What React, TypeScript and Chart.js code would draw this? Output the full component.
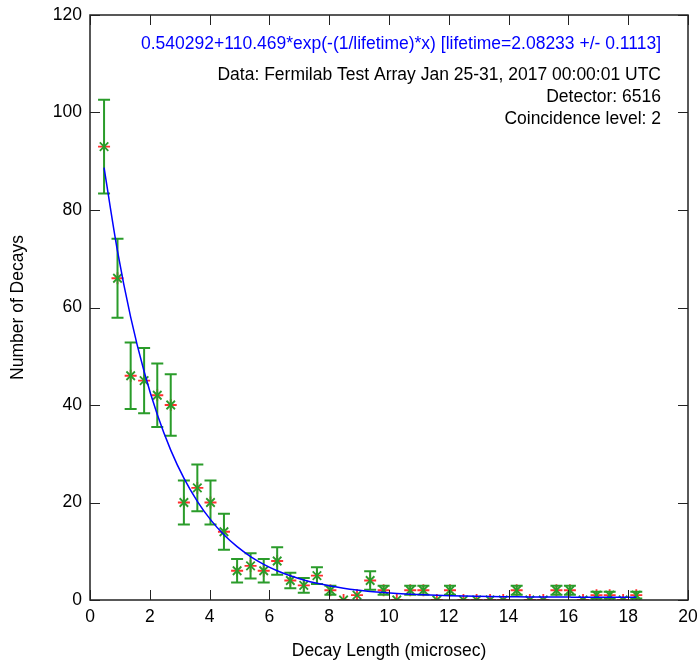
import React, { useEffect, useRef } from "react";
import { Chart, registerables } from "chart.js";

Chart.register(...registerables);

// Bin centres (microsec)
const decayX = [
  0.47, 0.92, 1.36, 1.81, 2.25, 2.7, 3.14, 3.59, 4.03, 4.48, 4.92, 5.37, 5.81, 6.26,
  6.7, 7.15, 7.59, 8.04, 8.48, 8.93, 9.37, 9.82, 10.26, 10.71, 11.15, 11.6, 12.04,
  12.49, 12.93, 13.38, 13.82, 14.27, 14.71, 15.16, 15.6, 16.05, 16.49, 16.94, 17.38,
  17.83, 18.27,
];
// Number of decays per bin
const decayCounts = [
  93, 66, 46, 45, 42, 40, 20, 23, 20, 14, 6, 7, 6, 8, 4, 3, 5, 2, 0, 1, 4, 2, 0, 2, 2,
  0, 2, 0, 0, 0, 0, 2, 0, 0, 2, 2, 0, 1, 1, 0, 1,
];
// Error bar half-heights
const decayErrors = [
  9.6, 8.1, 6.8, 6.7, 6.5, 6.3, 4.5, 4.8, 4.5, 3.7, 2.4, 2.6, 2.4, 2.8, 1.6, 1.5, 1.7,
  0.9, 0, 0, 1.9, 0.9, 0, 0.9, 0.9, 0, 0.9, 0, 0, 0, 0, 0.9, 0, 0, 0.9, 0.9, 0, 0.7,
  0.7, 0, 0.7,
];

// Fit parameters shown on the chart
const fitOffset = 0.540292;
const fitAmplitude = 110.469;
const fitLifetime = 2.08233;

const fitLabel =
  "0.540292+110.469*exp(-(1/lifetime)*x) [lifetime=2.08233 +/- 0.1113]";
const infoLines = [
  "Data: Fermilab Test Array Jan 25-31, 2017 00:00:01 UTC",
  "Detector: 6516",
  "Coincidence level: 2",
];

const FONT = "'Liberation Sans', Arial, sans-serif";
const FS = 17.5;

export default function App() {
  const canvasRef = useRef<HTMLCanvasElement | null>(null);

  useEffect(() => {
    const canvas = canvasRef.current;
    if (!canvas) return;

    const points = decayX.map((x, i) => ({ x, y: decayCounts[i] }));
    const fitPoints = decayX.map((x) => ({
      x,
      y: fitOffset + fitAmplitude * Math.exp(-x / fitLifetime),
    }));

    const drawErrorBars = (chart: any) => {
      const ctx = chart.ctx;
      const xs = chart.scales.x;
      const ys = chart.scales.y;
      ctx.save();
      ctx.strokeStyle = "#2a9c2a";
      ctx.lineWidth = 2;
      decayX.forEach((x, i) => {
        const e = decayErrors[i];
        if (!e) return;
        const px = xs.getPixelForValue(x);
        const top = ys.getPixelForValue(decayCounts[i] + e);
        const bot = ys.getPixelForValue(decayCounts[i] - e);
        ctx.beginPath();
        ctx.moveTo(px, top);
        ctx.lineTo(px, bot);
        ctx.moveTo(px - 6, top);
        ctx.lineTo(px + 6, top);
        ctx.moveTo(px - 6, bot);
        ctx.lineTo(px + 6, bot);
        ctx.stroke();
      });
      ctx.restore();
    };

    const framePlugin = {
      id: "framePlugin",
      afterDatasetDraw(chart: any, args: any) {
        if (args.index === 2) drawErrorBars(chart);
      },
      afterDraw(chart: any) {
        const ctx = chart.ctx;
        const { left, right, top, bottom } = chart.chartArea;
        const xs = chart.scales.x;
        const ys = chart.scales.y;
        ctx.save();
        ctx.strokeStyle = "#222";
        ctx.lineWidth = 1.5;
        ctx.strokeRect(left, top, right - left, bottom - top);
        ctx.lineWidth = 1;
        ctx.beginPath();
        xs.ticks.forEach((t: any) => {
          const px = Math.round(xs.getPixelForValue(t.value)) + 0.5;
          ctx.moveTo(px, bottom);
          ctx.lineTo(px, bottom - 10);
          ctx.moveTo(px, top);
          ctx.lineTo(px, top + 10);
        });
        ys.ticks.forEach((t: any) => {
          const py = Math.round(ys.getPixelForValue(t.value)) + 0.5;
          ctx.moveTo(left, py);
          ctx.lineTo(left + 10, py);
          ctx.moveTo(right, py);
          ctx.lineTo(right - 10, py);
        });
        ctx.stroke();

        ctx.textAlign = "right";
        ctx.textBaseline = "middle";
        ctx.font = `${FS}px ${FONT}`;
        ctx.fillStyle = "#0000ff";
        ctx.fillText(fitLabel, 661, 44);
        ctx.fillStyle = "#000";
        infoLines.forEach((line, i) => {
          ctx.fillText(line, 661, 75 + i * 22);
        });
        ctx.restore();
      },
    };

    const chart = new Chart(canvas, {
      type: "scatter",
      data: {
        datasets: [
          {
            label: "fit",
            data: fitPoints,
            showLine: true,
            borderColor: "#0000ff",
            borderWidth: 1.5,
            pointRadius: 0,
            cubicInterpolationMode: "monotone",
          } as any,
          {
            label: "errors",
            data: points,
            pointStyle: "crossRot",
            pointRadius: 6,
            borderColor: "#2a9c2a",
            borderWidth: 1.8,
            backgroundColor: "#2a9c2a",
            showLine: false,
          },
          {
            label: "data",
            data: points,
            pointStyle: "cross",
            pointRadius: 6,
            borderColor: "#ff3030",
            borderWidth: 1.8,
            backgroundColor: "#ff3030",
            showLine: false,
          },
        ],
      },
      options: {
        responsive: false,
        animation: false,
        events: [],
        layout: { padding: { top: 15, right: 12, left: 0, bottom: 0 } },
        plugins: {
          legend: { display: false },
          tooltip: { enabled: false },
          title: { display: false },
        },
        scales: {
          x: {
            type: "linear",
            min: 0,
            max: 20,
            ticks: {
              stepSize: 2,
              color: "#000",
              font: { family: FONT, size: FS },
              padding: 7,
            },
            grid: { display: false, drawTicks: false },
            border: { display: false },
            title: {
              display: true,
              text: "Decay Length (microsec)",
              color: "#000",
              font: { family: FONT, size: FS },
              padding: { top: 0, bottom: 1 },
            },
            afterFit: (s: any) => {
              s.height = 63;
              s.paddingLeft = 0;
              s.paddingRight = 0;
            },
          },
          y: {
            type: "linear",
            min: 0,
            max: 120,
            ticks: {
              stepSize: 20,
              color: "#000",
              font: { family: FONT, size: FS },
              padding: 8,
            },
            grid: { display: false, drawTicks: false },
            border: { display: false },
            title: {
              display: true,
              text: "Number of Decays",
              color: "#000",
              font: { family: FONT, size: FS },
              padding: { top: 7.5, bottom: 0 },
            },
            afterFit: (s: any) => {
              s.width = 90;
              s.paddingTop = 0;
              s.paddingBottom = 0;
            },
          },
        },
      },
      plugins: [framePlugin],
    });

    return () => chart.destroy();
  }, []);

  return (
    <div style={{ position: "absolute", left: 0, top: 0, width: 700, height: 663, background: "#fff" }}>
      <canvas ref={canvasRef} width={700} height={663} style={{ width: 700, height: 663 }} />
    </div>
  );
}
